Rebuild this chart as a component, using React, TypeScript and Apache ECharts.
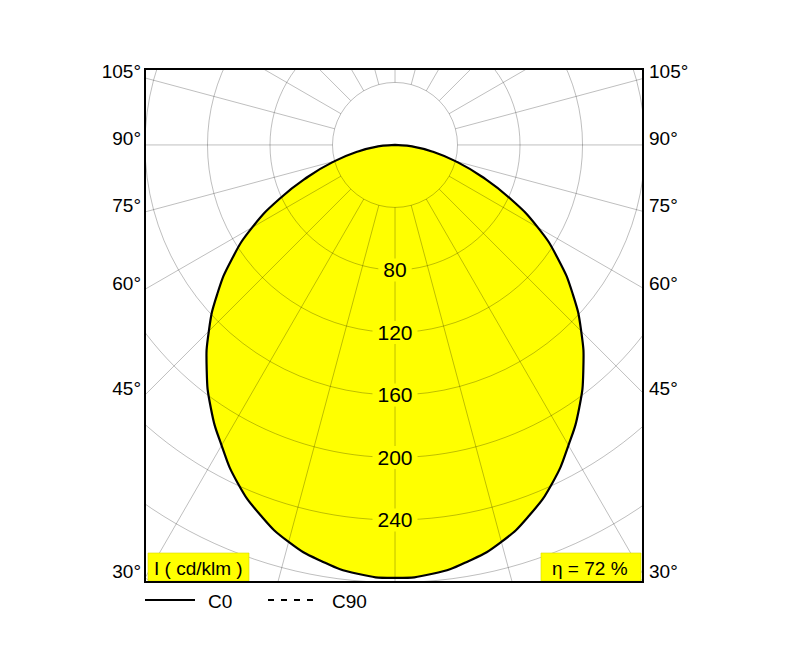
import React, { useEffect, useRef } from "react";
import * as echarts from "echarts";

// ---- data ----
const angles = [0, 5, 10, 15, 20, 25, 30, 35, 40, 45, 50, 55, 60, 65, 70, 75, 80, 85, 90];
const c0 = [277, 275.5, 270.5, 263, 252, 238.5, 222, 205.5, 187.5, 168.5, 148.5, 127.5, 105.5, 81.5, 59, 40, 24, 11, 0];
const radiusTicks = [40, 80, 120, 160, 200, 240, 280, 320];
const radiusLabels = [80, 120, 160, 200, 240];
const angleLabels = [30, 45, 60, 75, 90, 105];
const spokeStep = 15;
const unitText = "I ( cd/klm )";
const etaText = "η = 72 %";
const legendNames = ["C0", "C90"];

// ---- layout ----
const X_MIN = -160;
const X_MAX = 158.7;
const Y_MIN = -279.7;
const Y_MAX = 48.6;
const FONT = "'Liberation Sans', Arial, Helvetica, sans-serif";
const GRID_COLOR = "rgba(0,0,0,0.32)";

const rad = (d: number) => (d * Math.PI) / 180;

// closed outline (left half mirrored, then right half)
const curvePoints: number[][] = [];
for (let i = angles.length - 1; i >= 1; i--) {
  const t = rad(angles[i]);
  curvePoints.push([-c0[i] * Math.sin(t), -c0[i] * Math.cos(t)]);
}
for (let i = 0; i < angles.length; i++) {
  const t = rad(angles[i]);
  curvePoints.push([c0[i] * Math.sin(t), -c0[i] * Math.cos(t)]);
}

export default function App() {
  const ref = useRef<HTMLDivElement>(null);
  useEffect(() => {
    if (!ref.current) return;
    const chart = echarts.init(ref.current, undefined, { renderer: "svg" });

    const polyRender = (fill: string, stroke: string, lw: number) => (params: any, api: any) => {
      const pts = curvePoints.map((p) => api.coord(p));
      return {
        type: "polygon",
        shape: { points: pts, smooth: 0.5 },
        style: { fill, stroke, lineWidth: lw },
      };
    };

    chart.setOption({
      animation: false,
      grid: { left: 145, top: 69, width: 498, height: 513, show: false },
      xAxis: { type: "value", min: X_MIN, max: X_MAX, show: false },
      yAxis: { type: "value", min: Y_MIN, max: Y_MAX, show: false },
      series: [
        {
          type: "custom",
          name: "fill",
          z: 1,
          silent: true,
          clip: true,
          data: [[0, 0]],
          renderItem: polyRender("#ffff00", "none", 0),
        },
        {
          type: "custom",
          name: "polar grid",
          z: 2,
          silent: true,
          clip: true,
          data: [[0, 0]],
          renderItem: (params: any, api: any) => {
            const c = api.coord([0, 0]);
            const unit = api.coord([1, 0])[0] - c[0];
            const children: any[] = [];
            radiusTicks.forEach((r) => {
              children.push({
                type: "circle",
                shape: { cx: c[0], cy: c[1], r: r * unit },
                style: { fill: "none", stroke: GRID_COLOR, lineWidth: 0.8 },
              });
            });
            const r0 = radiusTicks[0];
            const r1 = 700;
            for (let a = 0; a < 360; a += spokeStep) {
              const t = rad(a);
              const p1 = api.coord([r0 * Math.sin(t), -r0 * Math.cos(t)]);
              const p2 = api.coord([r1 * Math.sin(t), -r1 * Math.cos(t)]);
              children.push({
                type: "line",
                shape: { x1: p1[0], y1: p1[1], x2: p2[0], y2: p2[1] },
                style: { stroke: GRID_COLOR, lineWidth: 0.8 },
              });
            }
            return { type: "group", children };
          },
        },
        {
          type: "custom",
          name: "C0",
          z: 3,
          silent: true,
          clip: true,
          data: [[0, 0]],
          renderItem: polyRender("none", "#000", 2.2),
        },
        {
          type: "custom",
          name: "labels",
          z: 4,
          silent: true,
          clip: false,
          data: [[0, 0]],
          renderItem: (params: any, api: any) => {
            const children: any[] = [];
            radiusLabels.forEach((r) => {
              const p = api.coord([0, -r]);
              children.push({
                type: "text",
                style: {
                  text: String(r),
                  x: p[0],
                  y: p[1],
                  align: "center",
                  verticalAlign: "middle",
                  fill: "#000",
                  font: `21px ${FONT}`,
                  backgroundColor: "#ffff00",
                  padding: [1, 5],
                },
              });
            });
            angleLabels.forEach((a) => {
              const t = rad(a);
              const yl = (X_MIN * Math.cos(t)) / Math.sin(t);
              const pl = api.coord([X_MIN, yl]);
              const pr = api.coord([X_MAX, yl]);
              children.push({
                type: "text",
                style: {
                  text: `${a}°`,
                  x: pl[0] - 4,
                  y: pl[1] - 6,
                  align: "right",
                  verticalAlign: "middle",
                  fill: "#000",
                  font: `19px ${FONT}`,
                },
              });
              children.push({
                type: "text",
                style: {
                  text: `${a}°`,
                  x: pr[0] + 6,
                  y: pl[1] - 6,
                  align: "left",
                  verticalAlign: "middle",
                  fill: "#000",
                  font: `19px ${FONT}`,
                },
              });
            });
            return { type: "group", children };
          },
        },
      ],
      graphic: [
        {
          type: "rect",
          z: 100,
          shape: { x: 148, y: 553, width: 101, height: 28 },
          style: { fill: "#ffff00", stroke: "#d8d800", lineWidth: 0.6 },
        },
        {
          type: "text",
          z: 101,
          x: 154,
          y: 568,
          style: { text: unitText, font: `19px ${FONT}`, fill: "#000", verticalAlign: "middle" },
        },
        {
          type: "rect",
          z: 100,
          shape: { x: 541, y: 553, width: 100, height: 28 },
          style: { fill: "#ffff00", stroke: "#d8d800", lineWidth: 0.6 },
        },
        {
          type: "text",
          z: 101,
          x: 552,
          y: 568,
          style: { text: etaText, font: `19px ${FONT}`, fill: "#000", verticalAlign: "middle" },
        },
        {
          type: "rect",
          z: 102,
          shape: { x: 145, y: 69, width: 498, height: 513 },
          style: { fill: "none", stroke: "#000", lineWidth: 2 },
        },
        {
          type: "line",
          z: 100,
          shape: { x1: 145, y1: 600, x2: 195, y2: 600 },
          style: { stroke: "#000", lineWidth: 2 },
        },
        {
          type: "text",
          z: 100,
          x: 208,
          y: 601,
          style: { text: legendNames[0], font: `19px ${FONT}`, fill: "#000", verticalAlign: "middle" },
        },
        {
          type: "line",
          z: 100,
          shape: { x1: 268, y1: 600, x2: 314, y2: 600 },
          style: { stroke: "#000", lineWidth: 2, lineDash: [6, 7] },
        },
        {
          type: "text",
          z: 100,
          x: 332,
          y: 601,
          style: { text: legendNames[1], font: `19px ${FONT}`, fill: "#000", verticalAlign: "middle" },
        },
      ],
    });
    return () => chart.dispose();
  }, []);
  return (
    <div
      ref={ref}
      style={{ position: "absolute", left: 0, top: 0, width: 795, height: 650, background: "#fff" }}
    />
  );
}
